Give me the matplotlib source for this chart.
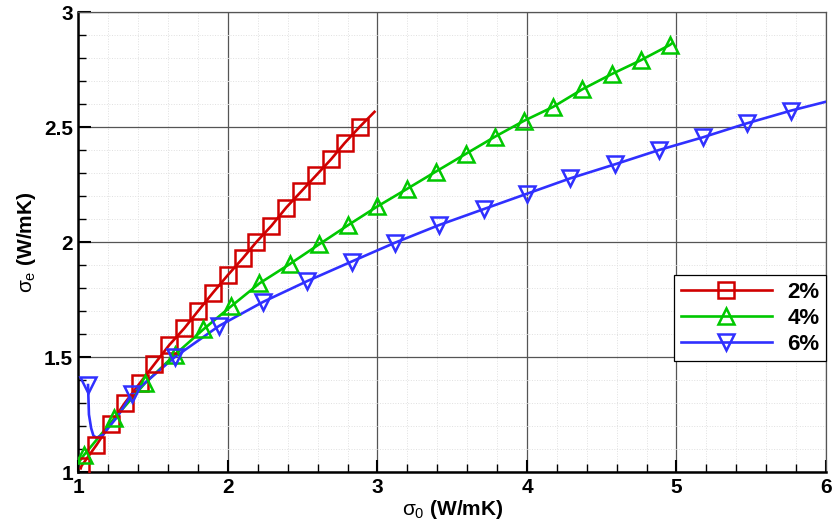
import numpy as np
import matplotlib
matplotlib.use("Agg")
import matplotlib.pyplot as plt
from matplotlib.lines import Line2D
from matplotlib.ticker import MultipleLocator

plt.rcParams['font.family'] = ['Liberation Sans', 'DejaVu Sans']
plt.rcParams['mathtext.fontset'] = 'custom'
plt.rcParams['mathtext.rm'] = 'Liberation Sans'
plt.rcParams['mathtext.it'] = 'Liberation Sans'
plt.rcParams['mathtext.bf'] = 'Liberation Sans:bold'

# markers
x2 = [1.02, 1.12, 1.215, 1.31, 1.41, 1.507, 1.607, 1.708, 1.80, 1.90,
      2.00, 2.10, 2.19, 2.29, 2.39, 2.49, 2.59, 2.69, 2.78, 2.88]
y2 = [1.026, 1.117, 1.21, 1.30, 1.386, 1.468, 1.552, 1.625, 1.70, 1.78,
      1.857, 1.93, 2.00, 2.07, 2.15, 2.22, 2.29, 2.36, 2.43, 2.50]

x4 = [1.037, 1.24, 1.445, 1.645, 1.835, 2.02, 2.21, 2.415, 2.61, 2.805, 3.0,
      3.195, 3.39, 3.59, 3.786, 3.98, 4.176, 4.37, 4.566, 4.76, 4.956]
y4 = [1.074, 1.233, 1.386, 1.51, 1.62, 1.72, 1.82, 1.905, 1.99, 2.074, 2.155,
      2.23, 2.306, 2.383, 2.458, 2.527, 2.588, 2.664, 2.73, 2.79, 2.857]

x6 = [1.064, 1.356, 1.645, 1.94, 2.236, 2.53, 2.827, 3.117, 3.413, 3.71,
      4.0, 4.29, 4.589, 4.883, 5.175, 5.47, 5.764]
y6 = [1.378, 1.338, 1.50, 1.635, 1.74, 1.83, 1.915, 1.997, 2.074, 2.143,
      2.21, 2.277, 2.338, 2.40, 2.455, 2.516, 2.571]

# extra points on the curves that carry no marker
x2_line = [1.015] + x2 + [2.98]
y2_line = [1.016] + y2 + [2.566]
x4_line = [1.0] + x4 + [4.97]
y4_line = [1.04] + y4 + [2.864]
x6_line = x6[:1] + [1.07, 1.085, 1.10, 1.12, 1.16, 1.26] + x6[1:] + [6.0]
y6_line = y6[:1] + [1.25, 1.19, 1.158, 1.149, 1.16, 1.24] + y6[1:] + [2.61]

labels = ['2%', '4%', '6%']
colors = ['#d00000', '#00c800', '#3030ff']
markers = ['s', '^', 'v']

fig = plt.figure(figsize=(8.33, 5.23), dpi=100)
ax = fig.add_axes([0.0942, 0.0975, 0.8974, 0.8795])

series = [(x2_line, y2_line, x2, y2), (x4_line, y4_line, x4, y4),
          (x6_line, y6_line, x6, y6)]
handles = []
for (xl, yl, xm, ym), c, m, lab in zip(series, colors, markers, labels):
    ax.plot(xl, yl, color=c, lw=1.9, zorder=3)
    ax.plot(xm, ym, ls='none', marker=m, ms=11, mfc='none', mec=c, mew=1.8, zorder=4)
    handles.append(Line2D([], [], color=c, lw=1.9, marker=m, ms=11, mfc='none',
                          mec=c, mew=1.8, label=lab))

ax.set_xlim(1, 6)
ax.set_ylim(1, 3)
ax.xaxis.set_major_locator(MultipleLocator(1))
ax.xaxis.set_minor_locator(MultipleLocator(0.2))
ax.yaxis.set_major_locator(MultipleLocator(0.5))
ax.yaxis.set_minor_locator(MultipleLocator(0.1))
ax.set_yticks([1, 1.5, 2, 2.5, 3])
ax.set_yticklabels(['1', '1.5', '2', '2.5', '3'])

ax.grid(which='major', color='#555555', lw=0.9, zorder=1)
ax.grid(which='minor', color='#e0e0e0', lw=0.7, ls=':', zorder=1)
ax.set_axisbelow(True)

for s in ['left', 'bottom']:
    ax.spines[s].set_linewidth(1.8)
    ax.spines[s].set_color('black')
for s in ['top', 'right']:
    ax.spines[s].set_linewidth(0.9)
    ax.spines[s].set_color('#555555')

ax.tick_params(which='major', direction='in', length=9, width=1.5,
               labelsize=15, top=False, right=False, pad=4)
ax.tick_params(which='minor', direction='in', length=5.5, width=1.0,
               top=False, right=False)
for t in ax.get_xticklabels() + ax.get_yticklabels():
    t.set_fontweight('bold')

ax.set_xlabel(r'$\sigma_0$ (W/mK)', fontsize=15, fontweight='bold', labelpad=1)
ax.set_ylabel(r'$\sigma_e$ (W/mK)', fontsize=15, fontweight='bold', labelpad=4)

leg = ax.legend(handles=handles, loc='upper right', bbox_to_anchor=(1.0, 0.428),
                borderaxespad=0, fancybox=False, edgecolor='black', framealpha=1,
                handlelength=4.1, handletextpad=0.7, borderpad=0.3,
                labelspacing=0.22, prop={'weight': 'bold', 'size': 16})
leg.get_frame().set_linewidth(0.9)
leg.set_zorder(10)

fig.savefig('out.png', dpi=100)
